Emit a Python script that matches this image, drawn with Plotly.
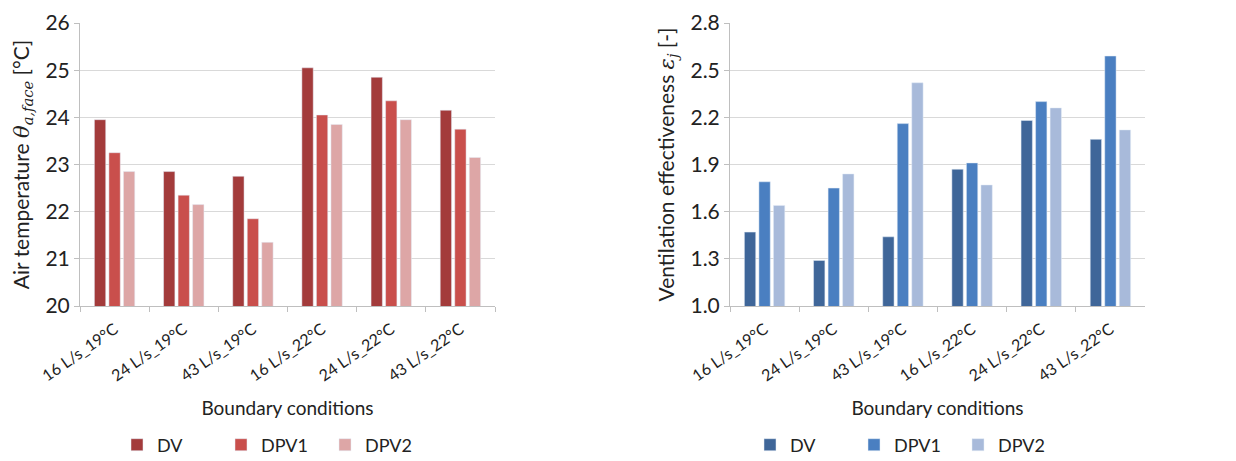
import plotly.graph_objects as go

categories = ["16 L/s_19°C", "24 L/s_19°C", "43 L/s_19°C", "16 L/s_22°C", "24 L/s_22°C", "43 L/s_22°C"]
series_names = ["DV", "DPV1", "DPV2"]

temp_dv = [23.95, 22.85, 22.75, 25.05, 24.85, 24.15]
temp_dpv1 = [23.25, 22.35, 21.85, 24.05, 24.35, 23.75]
temp_dpv2 = [22.85, 22.15, 21.35, 23.85, 23.95, 23.15]

eff_dv = [1.47, 1.29, 1.44, 1.87, 2.18, 2.06]
eff_dpv1 = [1.79, 1.75, 2.16, 1.91, 2.30, 2.59]
eff_dpv2 = [1.64, 1.84, 2.42, 1.77, 2.26, 2.12]

temp_ticks = [20, 21, 22, 23, 24, 25, 26]
eff_ticks = [1.0, 1.3, 1.6, 1.9, 2.2, 2.5, 2.8]

red_colors = ["#A33B3B", "#C94F4C", "#DDA6A6"]
blue_colors = ["#3F6699", "#4A7FC1", "#A8BADA"]

FONT = "Lato"
TXT = "#222222"
MATH = "font-family:'DejaVu Serif';font-style:italic"

fig = go.Figure()
for name, vals, col in zip(series_names, [temp_dv, temp_dpv1, temp_dpv2], red_colors):
    fig.add_trace(go.Bar(x=categories, y=vals, name=name, marker_color=col,
                         xaxis="x", yaxis="y", legend="legend"))
for name, vals, col in zip(series_names, [eff_dv, eff_dpv1, eff_dpv2], blue_colors):
    fig.add_trace(go.Bar(x=categories, y=vals, name=name, marker_color=col,
                         xaxis="x2", yaxis="y2", legend="legend2"))

W, H = 1236, 461
ML, MR, MT, MB = 80, 91, 23, 155
PW = W - ML - MR

xcommon = dict(type="category", showgrid=False, showline=True, linecolor="#BFBFBF",
               linewidth=1, ticks="outside", tickson="boundaries", ticklen=5,
               tickcolor="#BFBFBF", tickangle=-35, automargin=False,
               ticklabelstandoff=7,
               tickfont=dict(family=FONT, size=16, color=TXT),
               title=dict(text="Boundary conditions", font=dict(family=FONT, size=19, color=TXT),
                          standoff=18))
ycommon = dict(showgrid=True, gridcolor="#D9D9D9", gridwidth=1, showline=True,
               linecolor="#BFBFBF", linewidth=1, ticks="outside", ticklen=5,
               tickcolor="#BFBFBF", zeroline=False, automargin=False,
               tickfont=dict(family=FONT, size=21, color=TXT))

legend_common = dict(orientation="h", xanchor="center", xref="container",
                     y=1 - 445 / H, yanchor="middle", yref="container",
                     font=dict(family=FONT, size=18, color=TXT), entrywidth=59,
                     itemwidth=30, bgcolor="rgba(0,0,0,0)")

fig.update_layout(
    width=W, height=H,
    margin=dict(l=ML, r=MR, t=MT, b=MB),
    paper_bgcolor="white", plot_bgcolor="white",
    barmode="group", bargap=0.37, bargroupgap=0.22,
    font=dict(family=FONT, color=TXT),
    xaxis=dict(domain=[0, 415 / PW], anchor="y", **xcommon),
    yaxis=dict(domain=[0, 1], anchor="x", range=[20, 26], tickvals=temp_ticks,
               title=dict(text=f"Air temperature <span style=\"{MATH}\">θ</span>"
                               f"<sub><span style=\"{MATH}\">a,face</span></sub> [°C]",
                          font=dict(family=FONT, size=21, color=TXT), standoff=10),
               **ycommon),
    xaxis2=dict(domain=[(730 - ML) / PW, 1], anchor="y2", **xcommon),
    yaxis2=dict(domain=[0, 1], anchor="x2", range=[1.0, 2.8], tickvals=eff_ticks,
                tickformat=".1f",
                title=dict(text=f"Ventilation effectiveness <span style=\"{MATH}\">ε</span>"
                                f"<sub><span style=\"{MATH}\">j</span></sub> [-]",
                           font=dict(family=FONT, size=21, color=TXT), standoff=10),
                **ycommon),
    legend=dict(x=273 / W, **legend_common),
    legend2=dict(x=906 / W, **legend_common),
)

fig.write_html("out.html")
